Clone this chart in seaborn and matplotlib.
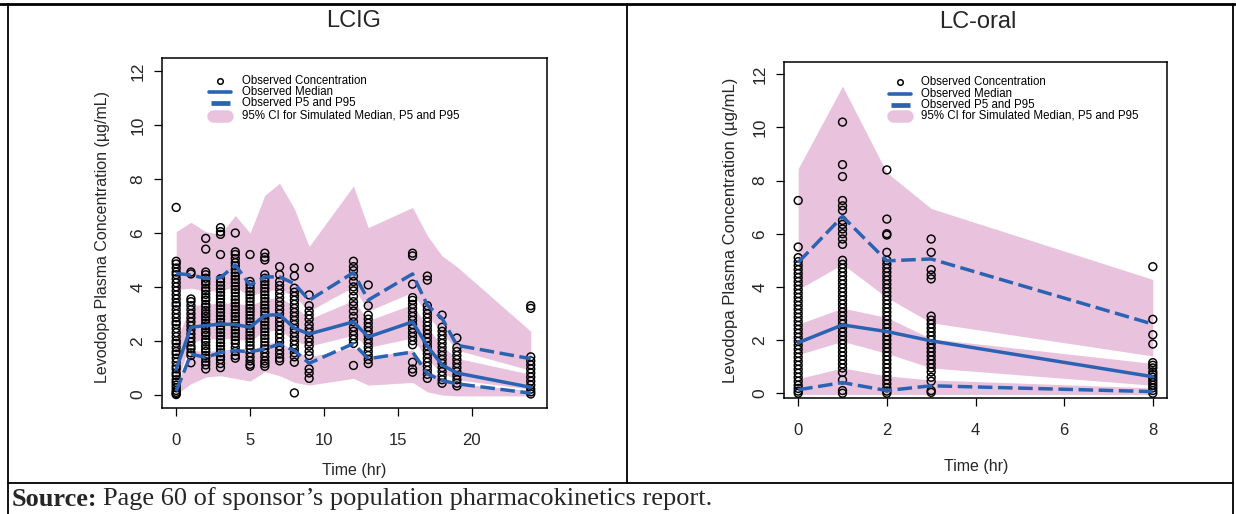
import matplotlib
matplotlib.use("Agg")
import matplotlib.pyplot as plt
import seaborn as sns
import pandas as pd
from matplotlib.lines import Line2D

W, H = 1236, 514
BLUE = "#2b63b2"
PINK = "#e9c3dd"

# ---------------- LCIG data ----------------
lcig_t = [0, 1, 2, 3, 4, 5, 6, 7, 8, 9, 12, 13, 16, 17, 18, 19, 24]
lcig_med = [0.94, 2.5, 2.56, 2.62, 2.6, 2.5, 2.94, 2.97, 2.46, 2.25, 2.7, 2.14, 2.7, 1.8, 1.1, 0.8, 0.27]
lcig_p95 = [4.5, 4.44, 4.31, 4.34, 4.81, 4.06, 4.37, 4.37, 4.12, 3.5, 4.53, 3.51, 4.48, 3.32, 2.83, 1.83, 1.33]
lcig_p5 = [0.12, 1.5, 1.38, 1.56, 1.63, 1.59, 1.69, 1.88, 1.63, 1.16, 1.89, 1.33, 1.58, 0.77, 0.52, 0.4, 0.05]
lcig_ci95_hi = [6.05, 6.4, 6.05, 5.95, 6.65, 6.0, 7.4, 7.85, 6.9, 5.5, 7.75, 6.2, 6.95, 5.9, 5.15, 4.75, 2.35]
lcig_ci95_lo = [3.9, 3.95, 3.85, 3.85, 4.0, 3.65, 3.85, 3.9, 3.65, 3.1, 4.0, 3.1, 3.8, 2.95, 2.3, 1.65, 0.9]
lcig_cimed_hi = [2.0, 3.3, 3.35, 3.4, 3.4, 3.3, 3.55, 3.6, 3.3, 2.8, 3.5, 2.75, 3.35, 2.5, 1.8, 1.35, 0.75]
lcig_cimed_lo = [0.4, 1.95, 2.05, 2.1, 2.05, 2.0, 2.35, 2.4, 2.0, 1.8, 2.2, 1.75, 2.1, 1.3, 0.8, 0.55, 0.2]
lcig_ci5_hi = [0.3, 1.65, 1.6, 1.65, 1.7, 1.6, 1.9, 1.95, 1.6, 1.4, 1.75, 1.4, 1.65, 0.95, 0.55, 0.4, 0.15]
lcig_ci5_lo = [0.0, 0.4, 0.65, 0.7, 0.6, 0.5, 0.85, 0.7, 0.45, 0.35, 0.6, 0.35, 0.45, 0.1, -0.02, -0.05, -0.05]

lcig_obs = {
    0: [6.95, 4.95, 4.85, 4.7, 4.55, 4.45, 4.3, 4.15, 4.0, 3.85, 3.7, 3.55, 3.4, 3.3, 3.15, 3.0, 2.85,
        2.7, 2.6, 2.45, 2.3, 2.15, 2.0, 1.9, 1.75, 1.6, 1.5, 1.35, 1.2, 1.05, 0.95, 0.8, 0.7, 0.55,
        0.45, 0.35, 0.25, 0.15, 0.08, 0.03, 0.0],
    1: [4.55, 4.48, 3.55, 3.45, 3.3, 3.15, 3.0, 2.85, 2.7, 2.55, 2.4, 2.25, 2.1, 1.95, 1.8, 1.7,
        1.55, 1.45, 1.18],
    2: [5.8, 5.4, 4.55, 4.45, 4.32, 4.2, 4.1, 3.95, 3.85, 3.72, 3.6, 3.5, 3.35, 3.25, 3.12, 3.0, 2.9,
        2.78, 2.65, 2.55, 2.42, 2.3, 2.2, 2.05, 1.95, 1.82, 1.7, 1.6, 1.45, 1.35, 1.22, 1.1, 0.95],
    3: [6.2, 6.05, 5.95, 5.2, 4.3, 4.18, 4.05, 3.92, 3.8, 3.68, 3.55, 3.42, 3.3, 3.18, 3.05, 2.92, 2.8,
        2.68, 2.55, 2.42, 2.3, 2.18, 2.05, 1.92, 1.8, 1.68, 1.55, 1.42, 1.3, 1.15, 1.0],
    4: [6.0, 5.3, 5.2, 5.05, 4.9, 4.78, 4.65, 4.52, 4.4, 4.28, 4.15, 4.02, 3.9, 3.78, 3.65, 3.52, 3.4,
        3.28, 3.15, 3.02, 2.9, 2.78, 2.65, 2.52, 2.4, 2.28, 2.15, 2.02, 1.9, 1.75, 1.6, 1.45, 1.35],
    5: [5.2, 4.2, 4.08, 3.95, 3.82, 3.7, 3.58, 3.45, 3.32, 3.2, 3.08, 2.95, 2.82, 2.7, 2.58, 2.45,
        2.32, 2.2, 2.08, 1.95, 1.82, 1.7, 1.55, 1.4, 1.25, 1.12, 1.05],
    6: [5.25, 5.1, 5.0, 4.45, 4.32, 4.2, 4.08, 3.95, 3.82, 3.7, 3.58, 3.45, 3.32, 3.2, 3.08, 2.95,
        2.82, 2.7, 2.58, 2.45, 2.32, 2.2, 2.08, 1.95, 1.82, 1.7, 1.55, 1.4, 1.25, 1.15, 1.05],
    7: [4.75, 4.45, 4.2, 4.05, 3.9, 3.75, 3.6, 3.45, 3.3, 3.15, 3.0, 2.85, 2.7, 2.55, 2.4, 2.25, 2.1,
        1.95, 1.8, 1.65, 1.5, 1.35, 1.25],
    8: [4.7, 4.4, 3.95, 3.8, 3.65, 3.5, 3.35, 3.2, 3.05, 2.9, 2.75, 2.6, 2.45, 2.3, 2.15, 2.0, 1.85,
        1.7, 1.55, 1.4, 1.2, 0.06],
    9: [4.72, 3.7, 3.3, 3.1, 2.95, 2.8, 2.6, 2.45, 2.3, 2.1, 1.95, 1.8, 1.6, 1.45, 0.95, 0.8, 0.6],
    12: [4.95, 4.75, 4.6, 4.4, 4.2, 4.0, 3.85, 3.65, 3.45, 3.3, 3.1, 2.9, 2.7, 2.5, 2.35, 2.2, 2.05,
         1.9, 1.08],
    13: [4.07, 3.3, 2.95, 2.8, 2.65, 2.5, 2.35, 2.2, 2.05, 1.9, 1.75, 1.6, 1.45, 1.3, 1.15],
    16: [5.25, 5.15, 4.1, 3.6, 3.5, 3.35, 3.2, 3.05, 2.9, 2.75, 2.6, 2.45, 2.3, 2.15, 2.0, 1.85,
         1.2, 0.95, 0.83],
    17: [4.4, 4.25, 3.3, 3.15, 3.0, 2.85, 2.7, 2.55, 2.4, 2.25, 2.1, 1.95, 1.8, 1.65, 1.5, 1.35,
         1.2, 1.05, 0.9, 0.75, 0.6],
    18: [2.95, 2.5, 2.35, 2.2, 2.05, 1.9, 1.75, 1.6, 1.45, 1.3, 1.15, 1.0, 0.85, 0.7, 0.55, 0.42],
    19: [2.1, 1.75, 1.6, 1.45, 1.3, 1.15, 1.0, 0.85, 0.7, 0.55, 0.42, 0.32],
    24: [3.3, 3.2, 1.4, 1.25, 1.1, 0.95, 0.8, 0.65, 0.5, 0.35, 0.2, 0.1, 0.02],
}

# ---------------- LC-oral data ----------------
oral_t = [0, 1, 2, 3, 8]
oral_med = [1.9, 2.57, 2.32, 1.97, 0.62]
oral_p95 = [4.92, 6.65, 4.98, 5.05, 2.6]
oral_p5 = [0.13, 0.4, 0.1, 0.28, 0.06]
oral_ci95_hi = [8.45, 11.55, 8.3, 6.95, 4.28]
oral_ci95_lo = [3.9, 4.85, 3.6, 2.65, 1.4]
oral_cimed_hi = [2.6, 3.2, 2.85, 2.05, 1.12]
oral_cimed_lo = [1.45, 1.95, 1.5, 0.95, 0.3]
oral_ci5_hi = [0.55, 0.95, 0.65, 0.5, 0.2]
oral_ci5_lo = [-0.05, -0.05, -0.05, -0.05, -0.05]

oral_obs = {
    0: [7.25, 5.5, 5.1, 4.95, 4.8, 4.65, 4.5, 4.35, 4.2, 4.05, 3.9, 3.75, 3.6, 3.45, 3.3, 3.15, 3.0,
        2.85, 2.7, 2.55, 2.4, 2.25, 2.1, 1.95, 1.8, 1.65, 1.5, 1.35, 1.2, 1.05, 0.9, 0.75, 0.6, 0.45,
        0.3, 0.18, 0.08, 0.0],
    1: [10.2, 8.6, 8.15, 7.25, 7.05, 6.88, 6.5, 6.35, 6.18, 6.0, 5.8, 5.6, 5.0, 4.85, 4.7, 4.55, 4.4,
        4.25, 4.1, 3.95, 3.8, 3.65, 3.5, 3.35, 3.2, 3.05, 2.9, 2.75, 2.6, 2.45, 2.3, 2.15, 2.0, 1.85,
        1.7, 1.55, 1.4, 1.25, 1.1, 0.95, 0.78, 0.5, 0.1, 0.0],
    2: [8.4, 6.55, 6.0, 5.95, 5.3, 5.0, 4.85, 4.7, 4.55, 4.4, 4.25, 4.1, 3.95, 3.8, 3.65, 3.5, 3.35,
        3.2, 3.05, 2.9, 2.75, 2.6, 2.45, 2.3, 2.15, 2.0, 1.85, 1.7, 1.55, 1.4, 1.25, 1.1, 0.95, 0.8,
        0.65, 0.5, 0.35, 0.2, 0.08, 0.0],
    3: [5.8, 5.3, 4.65, 4.45, 4.3, 2.9, 2.75, 2.6, 2.45, 2.3, 2.15, 2.0, 1.85, 1.7, 1.55, 1.4, 1.25,
        1.1, 0.95, 0.8, 0.6, 0.45, 0.1, 0.03],
    8: [4.76, 2.78, 2.2, 1.85, 1.15, 1.05, 0.95, 0.8, 0.7, 0.6, 0.5, 0.4, 0.3, 0.2, 0.1, 0.0],
}

legend_labels = ["Observed Concentration", "Observed Median", "Observed P5 and P95",
                 "95% CI for Simulated Median, P5 and P95"]
ylabel = "Levodopa Plasma Concentration (\u00b5g/mL)"
source_bold = "Source:"
source_rest = "Page 60 of sponsor\u2019s population pharmacokinetics report."

sns.set_theme(style="white")
plt.rcParams["font.family"] = ["Liberation Sans", "DejaVu Sans"]
SERIF = ["Liberation Serif", "DejaVu Serif"]


def obs_frame(obs):
    rows = [(t, v) for t, vals in obs.items() for v in vals]
    return pd.DataFrame(rows, columns=["time", "conc"])


def px_axes(fig, l, t, r, b):
    return fig.add_axes([l / W, 1 - b / H, (r - l) / W, (b - t) / H])


def draw_panel(ax, times, bands, med, p95, p5, obs, xlim, ylim, xticks):
    for lo, hi in bands:
        ax.fill_between(times, lo, hi, color=PINK, lw=0, zorder=1)
    df = obs_frame(obs)
    sns.scatterplot(data=df, x="time", y="conc", ax=ax, marker="o", s=32, color="none",
                    edgecolor="black", linewidth=1.05, zorder=3, legend=False)
    line_df = pd.DataFrame({"time": times, "med": med, "p95": p95, "p5": p5})
    sns.lineplot(data=line_df, x="time", y="med", ax=ax, color=BLUE, lw=2.5,
                 errorbar=None, sort=False, zorder=4)
    for col in ["p95", "p5"]:
        sns.lineplot(data=line_df, x="time", y=col, ax=ax, color=BLUE, lw=2.5,
                     errorbar=None, sort=False, zorder=4)
        ax.lines[-1].set_dashes((4.2, 1.6))
    ax.set_xlim(*xlim)
    ax.set_ylim(*ylim)
    ax.set_xticks(xticks)
    ax.set_yticks([0, 2, 4, 6, 8, 10, 12])
    ax.set_xlabel("")
    ax.set_ylabel("")
    for s in ax.spines.values():
        s.set_color("black")
        s.set_linewidth(1.1)
    ax.tick_params(axis="both", direction="out", length=6, width=0.9, color="black",
                   bottom=True, left=True, top=False, right=False)
    ax.tick_params(axis="x", pad=12, labelsize=12)
    ax.tick_params(axis="y", pad=6, labelsize=12.5, labelrotation=90)
    for lab in ax.get_yticklabels():
        lab.set_va("center")
    ax.grid(False)


def draw_legend(fig, xs, xt, ys):
    fx = lambda p: p / W
    fy = lambda p: 1 - p / H
    fig.add_artist(Line2D([fx(xs)], [fy(ys[0])], marker="o", ms=4, mfc="none", mec="black",
                          mew=1.1, ls="none"))
    fig.add_artist(Line2D([fx(xs - 11), fx(xs + 11)], [fy(ys[1])] * 2, color=BLUE, lw=2.6,
                          solid_capstyle="round"))
    fig.add_artist(Line2D([fx(xs - 9), fx(xs + 10)], [fy(ys[2])] * 2, color=BLUE, lw=3.4,
                          solid_capstyle="butt"))
    fig.add_artist(Line2D([fx(xs - 7), fx(xs + 7)], [fy(ys[3])] * 2, color=PINK, lw=9,
                          solid_capstyle="round"))
    for lab, y in zip(legend_labels, ys):
        fig.text(fx(xt), fy(y), lab, fontsize=8.3, va="center", ha="left", color="black")


fig = plt.figure(figsize=(W / 100, H / 100), dpi=100)
fig.patch.set_facecolor("white")

ax1 = px_axes(fig, 162, 58, 547, 408)
draw_panel(ax1, lcig_t,
           [(lcig_ci95_lo, lcig_ci95_hi), (lcig_cimed_lo, lcig_cimed_hi), (lcig_ci5_lo, lcig_ci5_hi)],
           lcig_med, lcig_p95, lcig_p5, lcig_obs, (-0.96, 25.1), (-0.5, 12.5), [0, 5, 10, 15, 20])

ax2 = px_axes(fig, 784, 62, 1167, 398)
draw_panel(ax2, oral_t,
           [(oral_ci95_lo, oral_ci95_hi), (oral_cimed_lo, oral_cimed_hi), (oral_ci5_lo, oral_ci5_hi)],
           oral_med, oral_p95, oral_p5, oral_obs, (-0.32, 8.32), (-0.18, 12.46), [0, 2, 4, 6, 8])

draw_legend(fig, 220, 242, [81, 92, 103, 116])
draw_legend(fig, 900, 921, [82, 94, 105, 116])

# axis titles and panel headers
fig.text(103 / W, 1 - 237 / H, ylabel, rotation=90, fontsize=11.5, ha="center", va="center")
fig.text(730 / W, 1 - 230 / H, ylabel, rotation=90, fontsize=12, ha="center", va="center")
fig.text(354 / W, 1 - 471 / H, "Time (hr)", fontsize=11.5, ha="center", va="center")
fig.text(976 / W, 1 - 467 / H, "Time (hr)", fontsize=11.5, ha="center", va="center")
fig.text(354 / W, 1 - 21 / H, "LCIG", fontsize=17, ha="center", va="center")
fig.text(978 / W, 1 - 22 / H, "LC-oral", fontsize=17, ha="center", va="center")


# table frame
def hline(y, x0, x1, lw=1.3):
    fig.add_artist(Line2D([x0 / W, x1 / W], [1 - y / H] * 2, color="black", lw=lw))


def vline(x, y0, y1, lw=1.3):
    fig.add_artist(Line2D([x / W] * 2, [1 - y0 / H, 1 - y1 / H], color="black", lw=lw))


hline(4, 0, W, lw=2.0)
hline(483, 8, 1233)
vline(8, 4, H)
vline(627, 4, 483)
vline(1233, 4, H)

src = fig.text(12 / W, 1 - 499 / H, source_bold, fontsize=19, va="center", ha="left",
               family=SERIF, weight="bold")
fig.canvas.draw()
bb = src.get_window_extent()
fig.text((bb.x1 + 5) / W, 1 - 499 / H, source_rest, fontsize=19, va="center", ha="left",
         family=SERIF)

fig.savefig("out.png", dpi=100)
